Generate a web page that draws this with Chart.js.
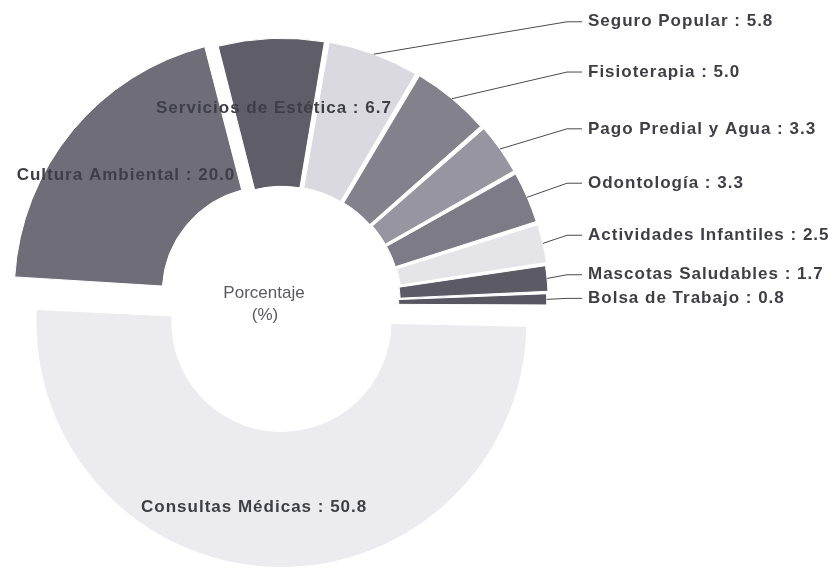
<!DOCTYPE html>
<html>
<head>
<meta charset="utf-8">
<script src="https://cdn.jsdelivr.net/npm/chart.js@4.4.1/dist/chart.umd.min.js"></script>
<style>
  html, body { margin: 0; padding: 0; background: #fff; }
  #wrap { width: 837px; height: 570px; position: relative; }
</style>
</head>
<body>
<div id="wrap"><canvas id="pieChart"></canvas></div>
<script>
// Data (percentages), clockwise starting at the left
const labels = ['Cultura Ambiental', 'Servicios de Estética', 'Seguro Popular', 'Fisioterapia',
  'Pago Predial y Agua', 'Odontología', 'Actividades Infantiles', 'Mascotas Saludables',
  'Bolsa de Trabajo', 'Consultas Médicas'];
const values = [20.0, 6.7, 5.8, 5.0, 3.3, 3.3, 2.5, 1.7, 0.8, 50.8];
const insideLabels = ['Cultura Ambiental', 'Servicios de Estética', 'Consultas Médicas'];
const lowerSlice = 'Consultas Médicas';   // drawn on its own, slightly smaller ring
const centerText = ['Porcentaje', '(%)'];

const sliceColors = ['#6f6d77', '#5f5d67', '#d9d9df', '#83818b', '#9795a0',
  '#7d7b85', '#e4e4e9', '#5c5a64', '#585661', '#ebebf0'];
const sliceOffsets = [72, 32, 32, 32, 32, 32, 32, 28, 24, 72];

// ring sizes (px) before the explode offset
const UPPER = { outer: 253, inner: 105 };
const LOWER = { outer: 227, inner: 92 };
const W_UPPER = 3, W_LOWER = 2;
const f = W_UPPER / (W_UPPER + W_LOWER);
const upperCut = (UPPER.outer - (UPPER.outer - UPPER.inner) / f) / UPPER.outer;
const lowerRadius = (LOWER.outer - LOWER.inner * f) / (1 - f);
const lowerCut = LOWER.inner / lowerRadius;

const TEXT_FONT = 'bold 17px "Liberation Sans", Arial, sans-serif';
const TEXT_COLOR = '#3e3e46';
const ELBOW_X = 567;
const LINE_END_X = 582;
const TEXT_X = 588;

const isLower = i => labels[i] === lowerSlice;

function arcGeom(arc) {
  const p = arc.getProps(['x', 'y', 'startAngle', 'endAngle', 'innerRadius', 'outerRadius']);
  const circ = p.endAngle - p.startAngle;
  const mid = (p.startAngle + p.endAngle) / 2;
  const shift = arc.options.offset / 4;
  const grow = shift * (1 - Math.sin(Math.min(Math.PI, circ)));
  return {
    start: p.startAngle,
    end: p.endAngle,
    mid,
    cx: p.x + Math.cos(mid) * shift,
    cy: p.y + Math.sin(mid) * shift,
    inner: p.innerRadius + grow,
    outer: p.outerRadius + grow
  };
}

// labels and leader lines
const labelPlugin = {
  id: 'sliceLabels',
  afterDatasetsDraw(chart) {
    const ctx = chart.ctx;
    const upperArcs = chart.getDatasetMeta(0).data;
    const lowerArcs = chart.getDatasetMeta(1).data;
    ctx.save();
    ctx.font = TEXT_FONT;
    ctx.letterSpacing = '1px';
    ctx.fillStyle = TEXT_COLOR;
    ctx.strokeStyle = '#4a4a52';
    ctx.lineWidth = 1;
    ctx.textBaseline = 'middle';
    const outside = [];
    labels.forEach((name, i) => {
      const lower = isLower(i);
      const g = arcGeom(lower ? lowerArcs[i] : upperArcs[i]);
      const text = name + ' : ' + values[i].toFixed(1);
      if (insideLabels.includes(name)) {
        const a = g.start + (lower ? 0.535 : 0.5) * (g.end - g.start);
        const r = g.inner + (lower ? 0.57 : 0.53) * (g.outer - g.inner);
        ctx.textAlign = 'center';
        ctx.fillText(text, g.cx + Math.cos(a) * r, g.cy + Math.sin(a) * r);
      } else {
        outside.push({ text, ax: g.cx + Math.cos(g.mid) * g.outer, ay: g.cy + Math.sin(g.mid) * g.outer });
      }
    });
    const baseY = outside[outside.length - 1].ay;
    outside.forEach(o => {
      const ly = baseY - 1 - (baseY - o.ay) * 1.128;
      ctx.beginPath();
      ctx.moveTo(o.ax, o.ay);
      ctx.lineTo(ELBOW_X, ly);
      ctx.lineTo(LINE_END_X, ly);
      ctx.stroke();
      ctx.textAlign = 'left';
      ctx.fillText(o.text, TEXT_X, ly);
    });

    // centre caption
    const a0 = upperArcs[0];
    ctx.font = '17px "Liberation Sans", Arial, sans-serif';
    ctx.letterSpacing = '0px';
    ctx.fillStyle = '#5a5a60';
    ctx.textAlign = 'center';
    ctx.fillText(centerText[0], a0.x - 18, a0.y - 11);
    ctx.fillText(centerText[1], a0.x - 17, a0.y + 11);
    ctx.restore();
  }
};

new Chart(document.getElementById('pieChart'), {
  type: 'doughnut',
  data: {
    labels: labels,
    datasets: [{
      data: values,
      weight: W_UPPER,
      radius: UPPER.outer,
      cutout: (upperCut * 100) + '%',
      backgroundColor: labels.map((l, i) => isLower(i) ? 'rgba(0,0,0,0)' : sliceColors[i]),
      borderColor: '#ffffff',
      borderWidth: labels.map((l, i) => isLower(i) ? 0 : 1),
      offset: labels.map((l, i) => isLower(i) ? 0 : sliceOffsets[i])
    }, {
      data: values,
      weight: W_LOWER,
      radius: lowerRadius,
      cutout: (lowerCut * 100) + '%',
      backgroundColor: labels.map((l, i) => isLower(i) ? sliceColors[i] : 'rgba(0,0,0,0)'),
      borderColor: '#ffffff',
      borderWidth: 0,
      offset: labels.map((l, i) => isLower(i) ? sliceOffsets[i] : 0)
    }]
  },
  plugins: [labelPlugin],
  options: {
    responsive: true,
    maintainAspectRatio: false,
    animation: false,
    events: [],
    rotation: -86.5,
    layout: { padding: { left: 0, right: 273, top: 38, bottom: 0 } },
    plugins: {
      legend: { display: false },
      tooltip: { enabled: false }
    }
  }
});
</script>
</body>
</html>
